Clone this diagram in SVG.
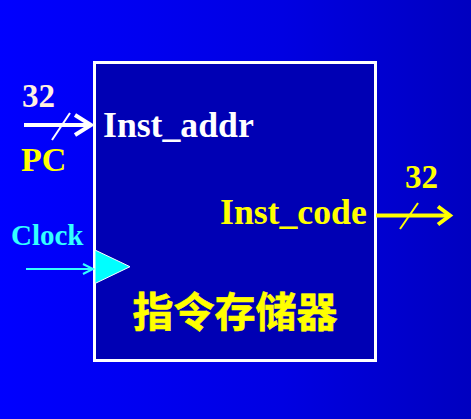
<svg xmlns="http://www.w3.org/2000/svg" width="471" height="419" viewBox="0 0 471 419">
<defs>
<linearGradient id="bg" x1="0" y1="0" x2="1" y2="0">
<stop offset="0" stop-color="#0000FF"/>
<stop offset="0.6" stop-color="#0000E2"/>
<stop offset="1" stop-color="#0000C0"/>
</linearGradient>
<style>
.t{font-family:"Liberation Serif","Times New Roman",serif;font-weight:bold}
.cn{font-family:"Noto Sans CJK SC","Noto Sans",sans-serif;font-weight:bold}
.bus{fill:none;stroke-width:4;stroke-linecap:butt;stroke-linejoin:miter}
.sl{fill:none;stroke-width:2}
</style>
</defs>
<rect x="0" y="0" width="471" height="419" fill="url(#bg)"/>
<g id="memory">
<rect x="94.5" y="62.5" width="281" height="298" fill="#0000B4" stroke="#FFFFFF" stroke-width="3"/>
<polygon points="95,250 95,283.5 130,266.7" fill="#00FFFF" stroke="#FFFFFF" stroke-width="1"/>
<text class="t" x="103" y="137" font-size="35.7" fill="#FFFFFF">Inst_addr</text>
<text class="t" x="220" y="224" font-size="35.7" fill="#FFFF00">Inst_code</text>
<text class="cn" x="235" y="327" font-size="41" fill="#FFFF00" stroke="#FFFF00" stroke-width="0.6" text-anchor="middle">指令存储器</text>
</g>
<g id="labels">
<text class="t" x="22" y="107" font-size="33" fill="#FFF0E0">32</text>
<text class="t" x="21" y="171" font-size="34" fill="#FFFF00">PC</text>
<text class="t" x="11" y="245" font-size="29" fill="#33FFFF">Clock</text>
<text class="t" x="405" y="188" font-size="33" fill="#FFFF00">32</text>
</g>
<g id="connectors">
<g stroke="#FFFFFF">
<line class="bus" x1="24" y1="125" x2="91" y2="125"/>
<polyline class="bus" points="75,115 91,125 75,135"/>
<line class="sl" x1="70" y1="113" x2="52" y2="140"/>
</g>
<g stroke="#33FFFF">
<line x1="26" y1="269" x2="93" y2="269" stroke-width="2"/>
<polyline points="83,264 93,269 83,274" fill="none" stroke-width="2"/>
</g>
<g stroke="#FFFF00">
<line class="bus" x1="376" y1="215.5" x2="450" y2="215.5"/>
<polyline class="bus" points="438,206.5 450,215.5 438,224.5"/>
<line class="sl" x1="418" y1="203" x2="400" y2="229"/>
</g>
</g>
</svg>
